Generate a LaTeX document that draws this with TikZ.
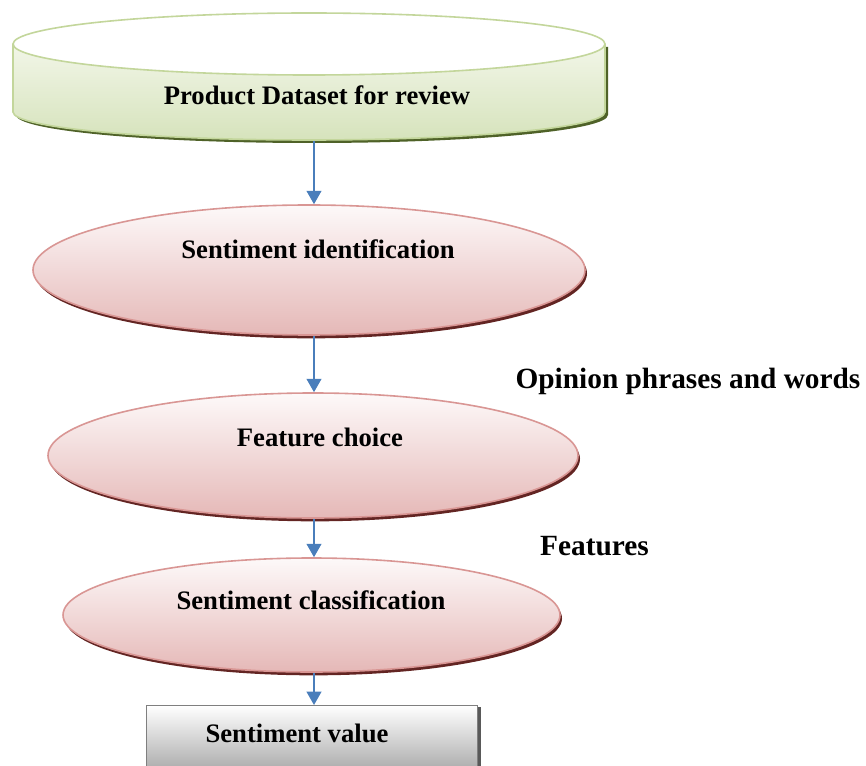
\documentclass[tikz,border=0pt]{standalone}
\usepackage{fontspec}
\setmainfont{Liberation Serif}
\usetikzlibrary{shapes.geometric,shadows,arrows.meta}
\definecolor{arrblue}{HTML}{4A7EBB}
\definecolor{cylborder}{HTML}{C3D69B}
\definecolor{cyltop}{HTML}{F2F6E8}
\definecolor{cylbot}{HTML}{D6E3BC}
\definecolor{cylshadow}{HTML}{4F6228}
\definecolor{ellborder}{HTML}{D99694}
\definecolor{elltop}{HTML}{FDF9F9}
\definecolor{ellbot}{HTML}{E5B8B7}
\definecolor{ellshadow}{HTML}{632523}
\definecolor{boxborder}{HTML}{7F7F7F}
\definecolor{boxbot}{HTML}{A5A5A5}
\definecolor{boxshadow}{HTML}{595959}
\begin{document}
\begin{tikzpicture}[x=0.75pt,y=0.75pt,
  txt/.style={font=\bfseries\fontsize{20}{23}\selectfont, inner sep=0pt},
  sidetxt/.style={font=\bfseries\fontsize{22}{25}\selectfont, inner sep=0pt},
  ell/.style={ellipse, draw=ellborder, line width=1.2pt, top color=elltop, bottom color=ellbot,
    general shadow={fill=ellshadow, shadow xshift=1.5pt, shadow yshift=-2.5pt}},
  outbox/.style={rectangle, draw=boxborder, line width=1pt, top color=white, bottom color=boxbot,
    general shadow={fill=boxshadow, shadow xshift=2.5pt, shadow yshift=-1pt}},
  arr/.style={draw=arrblue, line width=1.5pt, -{Triangle[width=11pt,length=10pt]}}]
\useasboundingbox (0,0) rectangle (866,-766);
% cylinder
\fill[cylshadow] (16,-47) -- (16,-115) arc[start angle=180,end angle=360,x radius=296,y radius=28] -- (608,-47) -- cycle;
\shade[top color=cyltop,bottom color=cylbot] (13,-44) -- (13,-112) arc[start angle=180,end angle=360,x radius=296,y radius=28] -- (605,-44) -- cycle;
\draw[cylborder, line width=1.2pt] (13,-44) -- (13,-112) arc[start angle=180,end angle=360,x radius=296,y radius=28] -- (605,-44);
\filldraw[fill=white, draw=cylborder, line width=1.2pt] (309,-44) ellipse[x radius=296,y radius=31];
\node[txt] (t0) at (317,-95) {Product Dataset for review};
\coordinate (cylb) at (314,-141);
% ellipses
\node[ell, minimum width=414pt, minimum height=97.5pt] (e1) at (309,-270) {};
\node[txt] (t1) at (318,-249) {Sentiment identification};
\node[ell, minimum width=397.5pt, minimum height=93.75pt] (e2) at (313,-455.5) {};
\node[txt] (t2) at (320,-437) {Feature choice};
\node[ell, minimum width=372.75pt, minimum height=85.5pt] (e3) at (311.5,-615) {};
\node[txt] (t3) at (311,-600) {Sentiment classification};
\node[outbox, minimum width=248.25pt, minimum height=52pt, anchor=north west] (v) at (146,-705) {};
\node[txt] (t4) at (297,-733) {Sentiment value};
% side labels
\node[sidetxt] (l1) at (688,-381) {Opinion phrases and words};
\node[sidetxt] (l2) at (594.5,-546) {Features};
% arrows
\draw[arr] (cylb) -- (cylb |- e1.north);
\draw[arr] (cylb |- e1.south) -- (cylb |- e2.north);
\draw[arr] (cylb |- e2.south) -- (cylb |- e3.north);
\draw[arr] (cylb |- e3.south) -- (cylb |- v.north);
\end{tikzpicture}
\end{document}
